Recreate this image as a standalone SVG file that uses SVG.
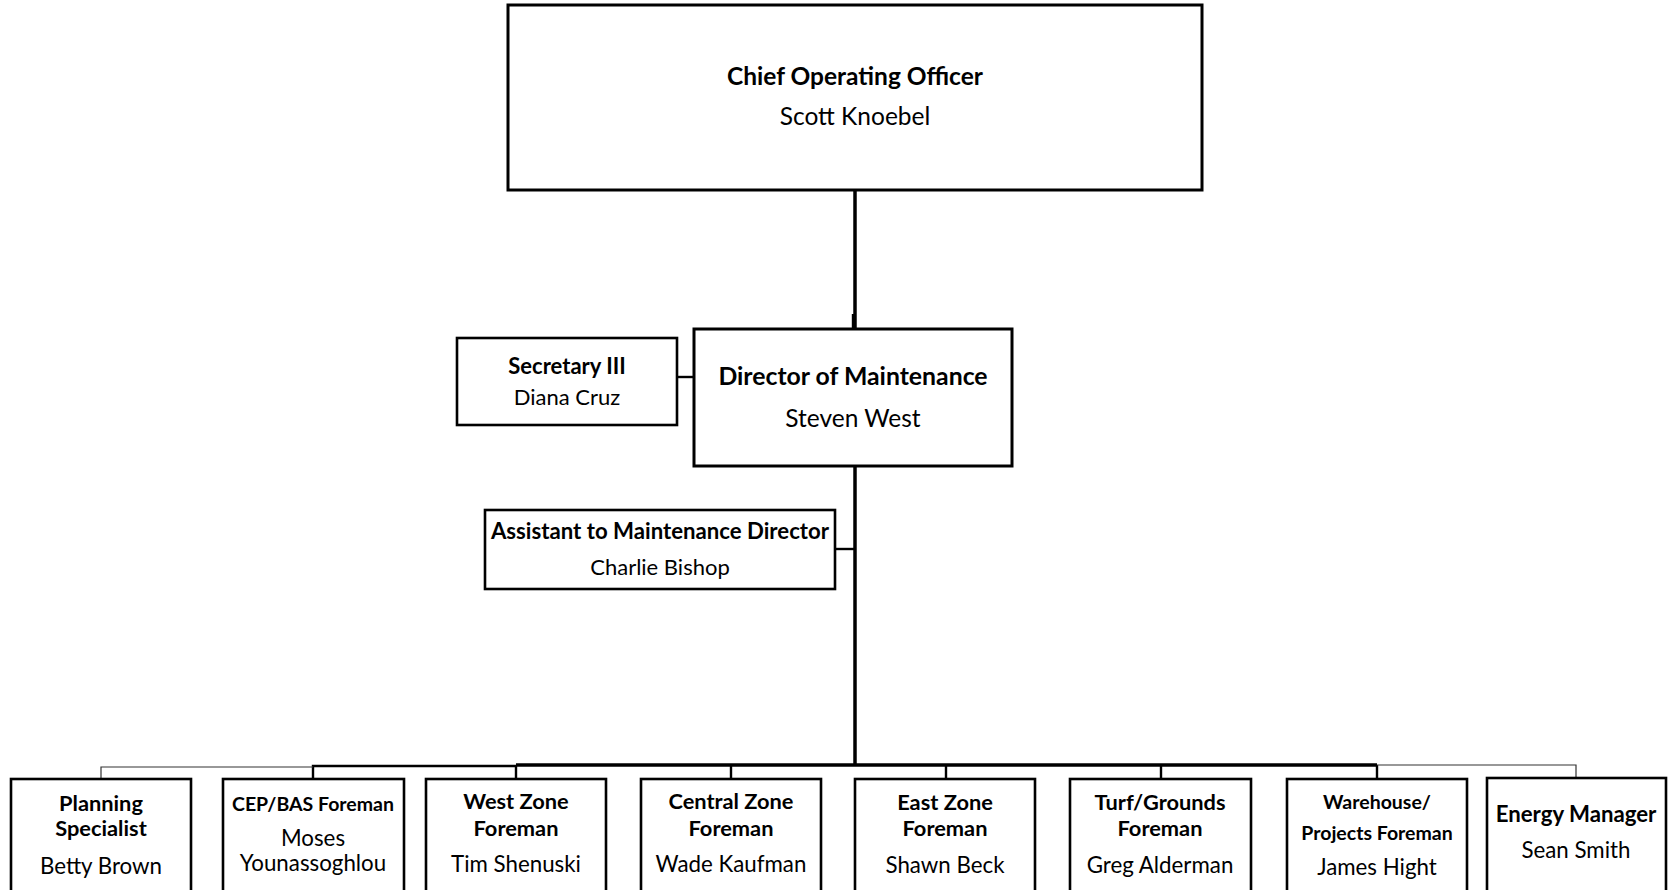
<svg xmlns="http://www.w3.org/2000/svg" width="1675" height="890" viewBox="0 0 1675 890">
<style>
  .box { fill: #ffffff; stroke: #000000; stroke-width: 2.6; }
  .big { stroke-width: 3; }
  text { font-family: Lato, "Liberation Sans", sans-serif; fill: #000000; text-anchor: middle; }
  .t1 { font-size: 24.5px; font-weight: bold; }
  .n1 { font-size: 24.5px; }
  .t2 { font-size: 22px; font-weight: bold; }
  .n2 { font-size: 22px; }
  .t3 { font-size: 21.8px; font-weight: bold; }
  .n3 { font-size: 22.3px; }
  .t4 { font-size: 19.5px; font-weight: bold; }
  .thick { fill: none; stroke: #000000; stroke-width: 3.5; }
  .med { fill: none; stroke: #000000; stroke-width: 2.4; }
  .thin { fill: none; stroke: #333333; stroke-width: 1.2; }
</style>
<g id="connectors">
  <path class="thick" d="M855 190 V330"/>
  <path class="med" d="M853 314 V330"/>
  <path class="med" d="M677 377 H694"/>
  <path class="thick" d="M855 466 V765"/>
  <path class="med" d="M835 549 H855"/>
  <path class="thick" d="M516 765 H1377"/>
  <path class="med" d="M516 765 V779 M731 765 V779 M946 765 V779 M1161 765 V779 M1377 765 V779"/>
  <path class="med" d="M313 779 V766 H516"/>
  <path class="thin" d="M101 779 V767 H313"/>
  <path class="thin" d="M1377 765 H1576 V779"/>
</g>
<g id="coo">
  <rect class="box big" x="508" y="5" width="694" height="185"/>
  <text class="t1" x="855" y="85">Chief Operating Officer</text>
  <text class="n1" x="855" y="125">Scott Knoebel</text>
</g>
<g id="director">
  <rect class="box big" x="694" y="329" width="318" height="137"/>
  <text class="t1" x="853" y="385" style="font-size:24.8px">Director of Maintenance</text>
  <text class="n1" x="853" y="427">Steven West</text>
</g>
<g id="secretary">
  <rect class="box" x="457" y="338" width="220" height="87"/>
  <text class="t2" x="567" y="374">Secretary III</text>
  <text class="n2" x="567" y="405">Diana Cruz</text>
</g>
<g id="assistant">
  <rect class="box" x="485" y="510" width="350" height="79"/>
  <text class="t2" x="660" y="539" style="font-size:22.2px">Assistant to Maintenance Director</text>
  <text class="n2" x="660" y="575">Charlie Bishop</text>
</g>
<g id="planning">
  <rect class="box" x="11" y="779" width="180" height="130"/>
  <text class="t3" x="101" y="811">Planning</text>
  <text class="t3" x="101" y="836">Specialist</text>
  <text class="n3" x="101" y="874">Betty Brown</text>
</g>
<g id="cep">
  <rect class="box" x="223" y="779" width="181" height="130"/>
  <text class="t4" x="313" y="811">CEP/BAS Foreman</text>
  <text class="n3" x="313" y="846">Moses</text>
  <text class="n3" x="313" y="871">Younassoghlou</text>
</g>
<g id="west">
  <rect class="box" x="426" y="779" width="180" height="130"/>
  <text class="t3" x="516" y="809">West Zone</text>
  <text class="t3" x="516" y="836">Foreman</text>
  <text class="n3" x="516" y="872">Tim Shenuski</text>
</g>
<g id="central">
  <rect class="box" x="641" y="779" width="180" height="130"/>
  <text class="t3" x="731" y="809">Central Zone</text>
  <text class="t3" x="731" y="836">Foreman</text>
  <text class="n3" x="731" y="872">Wade Kaufman</text>
</g>
<g id="east">
  <rect class="box" x="855" y="779" width="180" height="130"/>
  <text class="t3" x="945" y="810">East Zone</text>
  <text class="t3" x="945" y="836">Foreman</text>
  <text class="n3" x="945" y="873">Shawn Beck</text>
</g>
<g id="turf">
  <rect class="box" x="1070" y="779" width="181" height="130"/>
  <text class="t3" x="1160" y="810">Turf/Grounds</text>
  <text class="t3" x="1160" y="836">Foreman</text>
  <text class="n3" x="1160" y="873">Greg Alderman</text>
</g>
<g id="warehouse">
  <rect class="box" x="1287" y="779" width="180" height="130"/>
  <text class="t4" x="1377" y="809">Warehouse/</text>
  <text class="t4" x="1377" y="840">Projects Foreman</text>
  <text class="n3" x="1377" y="875">James Hight</text>
</g>
<g id="energy">
  <rect class="box" x="1487" y="778" width="179" height="130"/>
  <text class="t3" x="1576" y="822" style="font-size:22.2px">Energy Manager</text>
  <text class="n3" x="1576" y="858">Sean Smith</text>
</g>
</svg>
